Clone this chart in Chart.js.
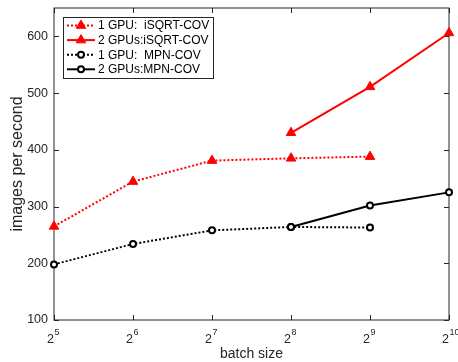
<!DOCTYPE html>
<html>
<head>
<meta charset="utf-8">
<script src="https://cdn.jsdelivr.net/npm/chart.js@4.4.0/dist/chart.umd.min.js"></script>
<style>
  html, body { margin: 0; padding: 0; background: #fff; }
  #wrap { width: 458px; height: 362px; }
</style>
</head>
<body>
<div id="wrap"><canvas id="chart"></canvas></div>
<script>
// batch size = 2^exp
const batchExp = [5, 6, 7, 8, 9, 10];
const isqrt1Gpu = [265, 344, 381, 385, 388, null];
const isqrt2Gpu = [null, null, null, 430, 511, 606];
const mpn1Gpu = [198, 234, 258, 264, 263, null];
const mpn2Gpu = [null, null, null, 264, 302, 325];
const yTicks = [100, 200, 300, 400, 500, 600];

const FONT = "'Liberation Sans', Arial, sans-serif";
const AXIS = "#262626";

// -------- inward ticks + box (matlab style) --------
const boxPlugin = {
  id: "box",
  beforeDatasetsDraw(chart) {
    const { ctx, chartArea: a, scales } = chart;
    ctx.save();
    ctx.strokeStyle = AXIS;
    ctx.lineWidth = 1;
    ctx.strokeRect(a.left, a.top, a.right - a.left, a.bottom - a.top);
    ctx.beginPath();
    scales.y.ticks.forEach(t => {
      const y = Math.round(scales.y.getPixelForValue(t.value)) + 0.5;
      ctx.moveTo(a.left, y); ctx.lineTo(a.left + 5, y);
      ctx.moveTo(a.right, y); ctx.lineTo(a.right - 5, y);
    });
    scales.x.ticks.forEach((t, i) => {
      const x = Math.round(scales.x.getPixelForValue(i)) + 0.5;
      ctx.moveTo(x, a.bottom); ctx.lineTo(x, a.bottom - 5);
      ctx.moveTo(x, a.top); ctx.lineTo(x, a.top + 5);
    });
    ctx.stroke();
    ctx.restore();
  },
  afterDraw(chart) {
    const { ctx, scales } = chart;
    ctx.save();
    ctx.fillStyle = AXIS;
    ctx.textBaseline = "alphabetic";
    // x tick labels 2^n
    batchExp.forEach((e, i) => {
      const x = scales.x.getPixelForValue(i);
      ctx.font = "12.5px " + FONT;
      ctx.textAlign = "right";
      ctx.fillText("2", x, 343);
      ctx.font = "9px " + FONT;
      ctx.textAlign = "left";
      ctx.fillText(String(e), x + 0.5, 334.5);
    });

    // legend
    const lx = 63, ly = 17, lw = 150, lh = 61;
    ctx.fillStyle = "#fff";
    ctx.fillRect(lx, ly, lw, lh);
    ctx.strokeStyle = AXIS;
    ctx.lineWidth = 1;
    ctx.strokeRect(lx + 0.5, ly + 0.5, lw, lh);
    chart.data.datasets.forEach((ds, i) => {
      const y = 25.5 + i * 14.6;
      ctx.save();
      ctx.strokeStyle = ds.borderColor;
      ctx.lineWidth = 2;
      ctx.setLineDash(ds.borderDash || []);
      ctx.beginPath();
      ctx.moveTo(67, y); ctx.lineTo(95, y);
      ctx.stroke();
      ctx.restore();
      ctx.fillStyle = ds.pointBackgroundColor;
      ctx.strokeStyle = ds.pointBorderColor;
      ctx.lineWidth = ds.pointBorderWidth;
      ctx.beginPath();
      if (ds.pointStyle === "triangle") {
        const r = ds.pointRadius;
        ctx.moveTo(81, y - r);
        ctx.lineTo(81 + r * 0.866, y + r * 0.5);
        ctx.lineTo(81 - r * 0.866, y + r * 0.5);
        ctx.closePath();
      } else {
        ctx.arc(81, y, ds.pointRadius, 0, Math.PI * 2);
      }
      ctx.fill(); ctx.stroke();
      ctx.fillStyle = "#000";
      ctx.font = "12px " + FONT;
      ctx.textAlign = "left";
      ctx.textBaseline = "middle";
      ctx.fillText(ds.label, 98, y + 0.5);
    });
    ctx.restore();
  }
};

function line(label, data, color, dotted, marker) {
  const tri = marker === "triangle";
  return {
    label: label,
    data: data,
    borderColor: color,
    borderWidth: 2,
    borderDash: dotted ? [2, 2] : [],
    pointStyle: marker,
    pointRadius: tri ? 5.5 : 3,
    pointBorderWidth: tri ? 1 : 2,
    pointBackgroundColor: tri ? color : "#fff",
    pointBorderColor: color,
    pointHoverRadius: tri ? 5.5 : 3,
    tension: 0,
    spanGaps: false,
    clip: false
  };
}

new Chart(document.getElementById("chart"), {
  type: "line",
  data: {
    labels: batchExp.map(e => "2^" + e),
    datasets: [
      line("1 GPU:  iSQRT-COV", isqrt1Gpu, "#ff0000", true, "triangle"),
      line("2 GPUs:iSQRT-COV", isqrt2Gpu, "#ff0000", false, "triangle"),
      line("1 GPU:  MPN-COV", mpn1Gpu, "#000000", true, "circle"),
      line("2 GPUs:MPN-COV", mpn2Gpu, "#000000", false, "circle")
    ]
  },
  options: {
    responsive: true,
    maintainAspectRatio: false,
    animation: false,
    layout: { padding: { top: 8, right: 9, left: 0, bottom: 0 } },
    plugins: { legend: { display: false }, tooltip: { enabled: false } },
    scales: {
      x: {
        offset: false,
        grid: { display: false },
        border: { display: false },
        ticks: { callback: () => "", autoSkip: false },
        title: { display: true, text: "batch size", color: AXIS,
                 font: { family: FONT, size: 14 }, padding: { top: 0, bottom: -1 } },
        afterFit: s => { s.height = 42; s.paddingLeft = 0; s.paddingRight = 0; }
      },
      y: {
        min: 100,
        max: 650,
        grid: { display: false, drawTicks: false },
        border: { display: false },
        ticks: { stepSize: 100, color: AXIS, padding: 6, font: { family: FONT, size: 12.5 } },
        afterBuildTicks: s => { s.ticks = s.ticks.filter(t => yTicks.includes(t.value)); },
        title: { display: true, text: "images per second", color: AXIS,
                 font: { family: FONT, size: 16 }, padding: { top: 8, bottom: 0 } },
        afterFit: s => { s.width = 54; s.paddingTop = 0; s.paddingBottom = 0; }
      }
    }
  },
  plugins: [boxPlugin]
});
</script>
</body>
</html>
